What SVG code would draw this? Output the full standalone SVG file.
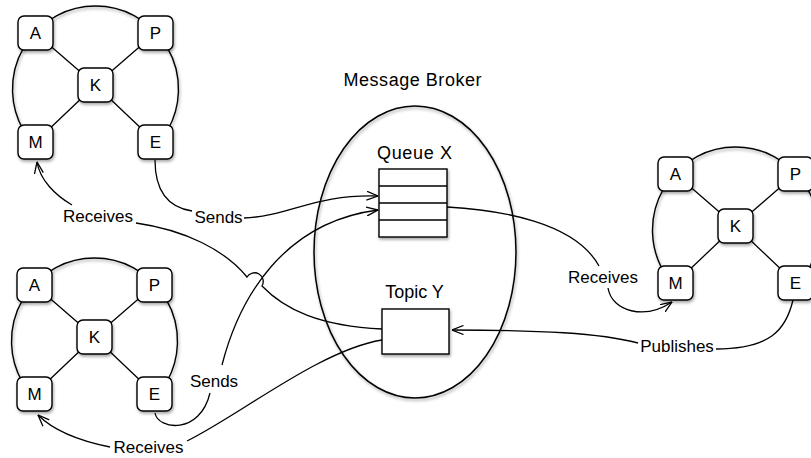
<svg xmlns="http://www.w3.org/2000/svg" width="811" height="458" viewBox="0 0 811 458">
<defs>
<filter id="sh" x="-20%" y="-20%" width="150%" height="150%">
<feDropShadow dx="1" dy="2" stdDeviation="1.4" flood-color="#000" flood-opacity="0.35"/>
</filter>
<marker id="arr" viewBox="0 0 12 10" refX="11.5" refY="5" markerWidth="12" markerHeight="10" orient="auto" markerUnits="userSpaceOnUse">
<path d="M0,0.5 L11.5,5 L0,9.5" fill="none" stroke="#000" stroke-width="1.3"/>
</marker>
</defs>
<style>
.box{fill:#fff;stroke:#000;stroke-width:1.4;filter:url(#sh)}
.t{font-family:"Liberation Sans",Arial,Helvetica,sans-serif;font-size:17px;text-anchor:middle;fill:#000}
.tt{font-family:"Liberation Sans",Arial,Helvetica,sans-serif;font-size:18px;text-anchor:middle;fill:#000}
.ln{fill:none;stroke:#000;stroke-width:1.3}
.ring{fill:none;stroke:#000;stroke-width:1.4;filter:url(#sh)}
.arr{marker-end:url(#arr)}
</style>

<!-- Message broker -->
<g id="broker">
<ellipse cx="415" cy="252" rx="101" ry="146" fill="none" stroke="#000" stroke-width="1.5" filter="url(#sh)"/>
<text class="tt" x="412.5" y="86" textLength="138" lengthAdjust="spacing">Message Broker</text>
</g>

<!-- cluster internal links -->
<g id="cluster-links">
<g transform="translate(0,0)">
<path class="ring" d="M23.3,130 A83,83 0 1 1 167.7,130"/>
<path class="ln" d="M35.5,33 L95.5,85 M155.5,33 L95.5,85 M35.5,142 L95.5,85 M155.5,142 L95.5,85"/>
</g>
<g transform="translate(-1,252)">
<path class="ring" d="M23.3,130 A83,83 0 1 1 167.7,130"/>
<path class="ln" d="M35.5,33 L95.5,85 M155.5,33 L95.5,85 M35.5,142 L95.5,85 M155.5,142 L95.5,85"/>
</g>
<g transform="translate(640,141)">
<path class="ring" d="M23.3,130 A83,83 0 1 1 167.7,130"/>
<path class="ln" d="M35.5,33 L95.5,85 M155.5,33 L95.5,85 M35.5,142 L95.5,85 M155.5,142 L95.5,85"/>
</g>
</g>

<!-- connectors -->
<g id="connectors">
<!-- top-left E sends to Queue X -->
<path class="ln" d="M155,160 C155,195 172,208 192,211"/>
<path class="ln arr" d="M244,218 C290,216 315,194 378,196"/>
<!-- Topic Y to top-left M (receives) with hop -->
<path class="ln" d="M382,329 C320,326 285,310 262,286 A7.5,7.5 0 0 0 247,277 C225,250 185,230 136,223"/>
<path class="ln arr" d="M72,205 C55,195 40,180 37,162"/>
<!-- bottom-left E sends to Queue X -->
<path class="ln" d="M155,413 C158,430 200,435 210,393"/>
<path class="ln arr" d="M222,365 C240,295 285,222 378,210"/>
<!-- Topic Y to bottom-left M (receives) -->
<path class="ln" d="M382,340 C320,350 240,415 187,441"/>
<path class="ln arr" d="M110,447 C85,442 55,432 38,415"/>
<!-- Queue X to right M (receives) -->
<path class="ln" d="M447,207 C500,210 575,222 599,266"/>
<path class="ln arr" d="M608,288 C612,312 645,320 672,302"/>
<!-- right E publishes to Topic Y -->
<path class="ln" d="M793,300 C786,330 770,349 716,349"/>
<path class="ln arr" d="M638,343 C600,333 540,330 452,330"/>
</g>

<!-- Queue X -->
<g id="queue-x">
<rect class="box" x="379" y="169" width="68" height="68"/>
<path class="ln" d="M379,186 H447 M379,203 H447 M379,220 H447"/>
<text class="tt" x="414.5" y="159" textLength="75" lengthAdjust="spacing">Queue X</text>
</g>

<!-- Topic Y -->
<g id="topic-y">
<rect class="box" x="382" y="309" width="67" height="45"/>
<text class="tt" x="414.5" y="298">Topic Y</text>
</g>

<!-- top-left cluster -->
<g id="c1" transform="translate(0,0)">
<g id="c1-A"><rect class="box" x="18" y="16" width="35" height="34" rx="6"/><text class="t" x="35.5" y="39">A</text></g>
<g id="c1-P"><rect class="box" x="138" y="16" width="35" height="34" rx="6"/><text class="t" x="155.5" y="39">P</text></g>
<g id="c1-K"><rect class="box" x="78" y="68" width="35" height="34" rx="6"/><text class="t" x="95.5" y="91">K</text></g>
<g id="c1-M"><rect class="box" x="18" y="125" width="35" height="34" rx="6"/><text class="t" x="35.5" y="148">M</text></g>
<g id="c1-E"><rect class="box" x="138" y="125" width="35" height="34" rx="6"/><text class="t" x="155.5" y="148">E</text></g>
</g>

<!-- bottom-left cluster -->
<g id="c2" transform="translate(-1,252)">
<g id="c2-A"><rect class="box" x="18" y="16" width="35" height="34" rx="6"/><text class="t" x="35.5" y="39">A</text></g>
<g id="c2-P"><rect class="box" x="138" y="16" width="35" height="34" rx="6"/><text class="t" x="155.5" y="39">P</text></g>
<g id="c2-K"><rect class="box" x="78" y="68" width="35" height="34" rx="6"/><text class="t" x="95.5" y="91">K</text></g>
<g id="c2-M"><rect class="box" x="18" y="125" width="35" height="34" rx="6"/><text class="t" x="35.5" y="148">M</text></g>
<g id="c2-E"><rect class="box" x="138" y="125" width="35" height="34" rx="6"/><text class="t" x="155.5" y="148">E</text></g>
</g>

<!-- right cluster -->
<g id="c3" transform="translate(640,141)">
<g id="c3-A"><rect class="box" x="18" y="16" width="35" height="34" rx="6"/><text class="t" x="35.5" y="39">A</text></g>
<g id="c3-P"><rect class="box" x="138" y="16" width="35" height="34" rx="6"/><text class="t" x="155.5" y="39">P</text></g>
<g id="c3-K"><rect class="box" x="78" y="68" width="35" height="34" rx="6"/><text class="t" x="95.5" y="91">K</text></g>
<g id="c3-M"><rect class="box" x="18" y="125" width="35" height="34" rx="6"/><text class="t" x="35.5" y="148">M</text></g>
<g id="c3-E"><rect class="box" x="138" y="125" width="35" height="34" rx="6"/><text class="t" x="155.5" y="148">E</text></g>
</g>

<!-- connector labels -->
<g id="labels">
<text class="t" x="218.5" y="223">Sends</text>
<text class="t" x="98" y="222">Receives</text>
<text class="t" x="214" y="387">Sends</text>
<text class="t" x="148.5" y="453">Receives</text>
<text class="t" x="603" y="283">Receives</text>
<text class="t" x="677" y="352">Publishes</text>
</g>
</svg>
